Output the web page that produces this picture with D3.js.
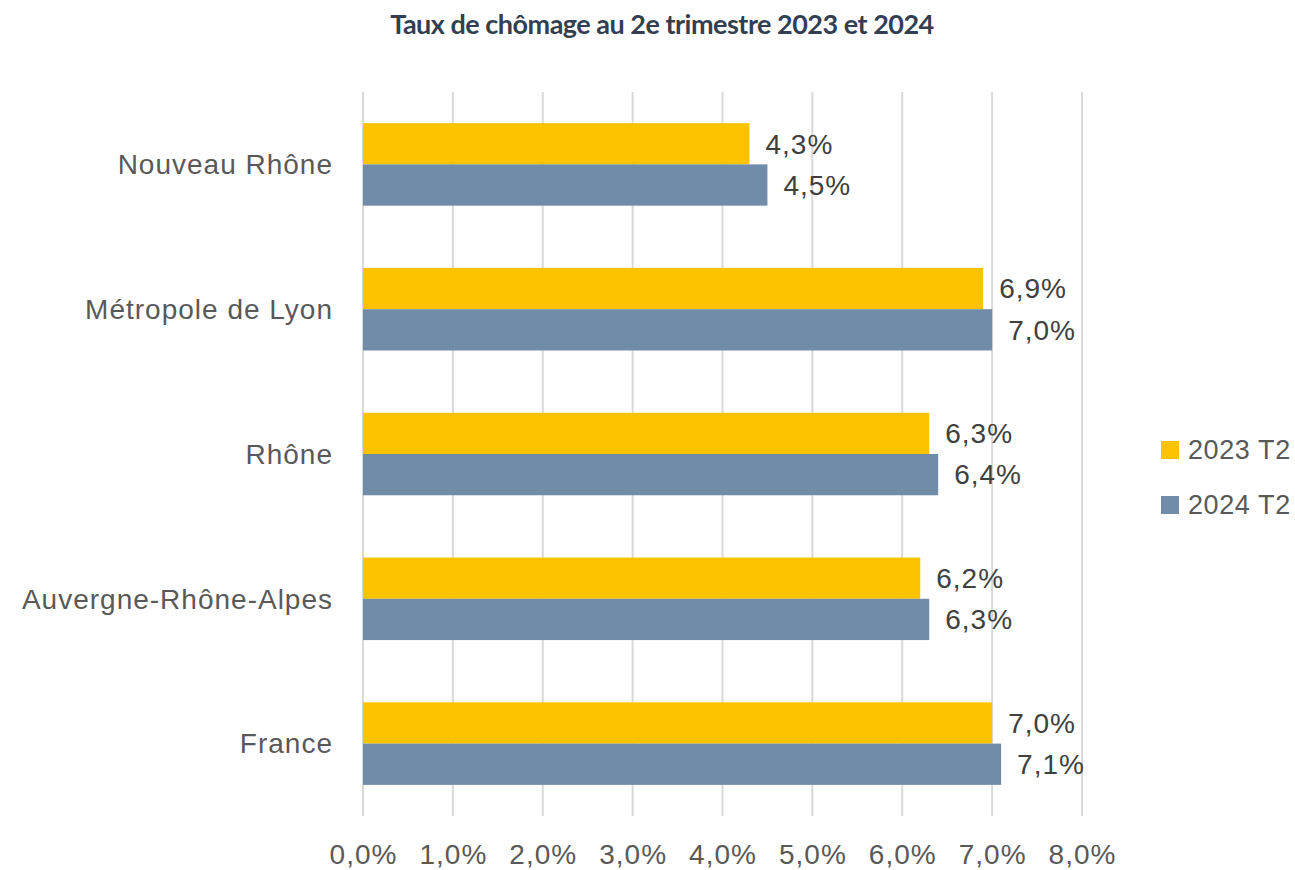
<!DOCTYPE html>
<html>
<head>
<meta charset="utf-8">
<script src="https://cdn.jsdelivr.net/npm/d3@7"></script>
<style>
  body { margin: 0; background: #fff; }
</style>
</head>
<body>
<div class="center"></div>
<script>
// data
const categories = ["Nouveau Rhône", "Métropole de Lyon", "Rhône", "Auvergne-Rhône-Alpes", "France"];
const seriesNames = ["2023 T2", "2024 T2"];
const values2023 = [4.3, 6.9, 6.3, 6.2, 7.0];
const values2024 = [4.5, 7.0, 6.4, 6.3, 7.1];
const tickValues = [0, 1, 2, 3, 4, 5, 6, 7, 8];
const colors = ["#fdc300", "#708ca9"];

const W = 1295, H = 870;
const margin = {top: 92, left: 363, right: 213, bottom: 55};
const width = 1082 - margin.left;
const height = 816 - margin.top;

const fmt = v => d3.format(".1f")(v).replace(".", ",") + "%";
const labelFont = "'Liberation Sans', Arial, sans-serif";

const svg = d3.select(".center").append("svg")
    .attr("width", W)
    .attr("height", H);

// title
svg.append("text")
    .attr("x", 662)
    .attr("y", 34)
    .attr("text-anchor", "middle")
    .style("font-family", "Lato, sans-serif")
    .style("font-weight", "700")
    .style("font-size", "27px")
    .style("letter-spacing", "-0.5px")
    .style("fill", "#333f50")
    .text("Taux de chômage au 2e trimestre 2023 et 2024");

const g = svg.append("g")
    .attr("transform", `translate(${margin.left},${margin.top})`);

// scales
const xScale = d3.scaleLinear().domain([0, 8]).range([0, width]);
const yScale = d3.scaleBand().domain(categories).range([0, height]).paddingInner(0.43).paddingOuter(0.215);
const ySub = d3.scaleBand().domain(seriesNames).range([0, yScale.bandwidth()]);

// gridlines
g.selectAll("line.grid")
    .data(tickValues)
    .enter().append("line")
    .attr("class", "grid")
    .attr("x1", d => xScale(d))
    .attr("x2", d => xScale(d))
    .attr("y1", 0)
    .attr("y2", height)
    .style("stroke", "#d9d9d9")
    .style("stroke-width", 2);

// x axis labels
const xAxis = d3.axisBottom(xScale)
    .tickValues(tickValues)
    .tickSize(0)
    .tickFormat(fmt);

const xg = g.append("g")
    .attr("transform", `translate(0,${height})`)
    .call(xAxis);
xg.select(".domain").remove();
xg.selectAll("text")
    .attr("dy", 0)
    .attr("y", 48)
    .style("font-family", labelFont)
    .style("font-size", "28px")
    .style("letter-spacing", "1px")
    .style("fill", "#595959");

// y axis labels
const yAxis = d3.axisLeft(yScale).tickSize(0).tickPadding(30);
const yg = g.append("g").call(yAxis);
yg.select(".domain").remove();
yg.selectAll("text")
    .attr("dy", "0.35em")
    .style("font-family", labelFont)
    .style("font-size", "28px")
    .style("letter-spacing", "1px")
    .style("fill", "#595959");

// bars
const rows = categories.map((c, i) => ({cat: c, vals: [values2023[i], values2024[i]]}));

const grp = g.selectAll("g.cat")
    .data(rows)
    .enter().append("g")
    .attr("class", "cat")
    .attr("transform", d => `translate(0,${yScale(d.cat)})`);

grp.selectAll("rect")
    .data(d => d.vals.map((v, j) => ({s: seriesNames[j], v: v, j: j})))
    .enter().append("rect")
    .attr("x", 0)
    .attr("y", d => ySub(d.s))
    .attr("width", d => xScale(d.v))
    .attr("height", ySub.bandwidth())
    .style("fill", d => colors[d.j]);

grp.selectAll("text.val")
    .data(d => d.vals.map((v, j) => ({s: seriesNames[j], v: v, j: j})))
    .enter().append("text")
    .attr("class", "val")
    .attr("x", d => xScale(d.v) + 16)
    .attr("y", d => ySub(d.s) + ySub.bandwidth() / 2)
    .attr("dy", "0.35em")
    .style("font-family", labelFont)
    .style("font-size", "28px")
    .style("letter-spacing", "1px")
    .style("fill", "#404040")
    .text(d => fmt(d.v));

// legend
const legend = svg.selectAll("g.legend")
    .data(seriesNames)
    .enter().append("g")
    .attr("class", "legend")
    .attr("transform", (d, i) => `translate(1161,${441 + i * 55})`);

legend.append("rect")
    .attr("width", 18)
    .attr("height", 18)
    .style("fill", (d, i) => colors[i]);

legend.append("text")
    .attr("x", 27)
    .attr("y", 9)
    .attr("dy", "0.35em")
    .style("font-family", labelFont)
    .style("font-size", "27px")
    .style("letter-spacing", "0.6px")
    .style("fill", "#595959")
    .text(d => d);
</script>
</body>
</html>
